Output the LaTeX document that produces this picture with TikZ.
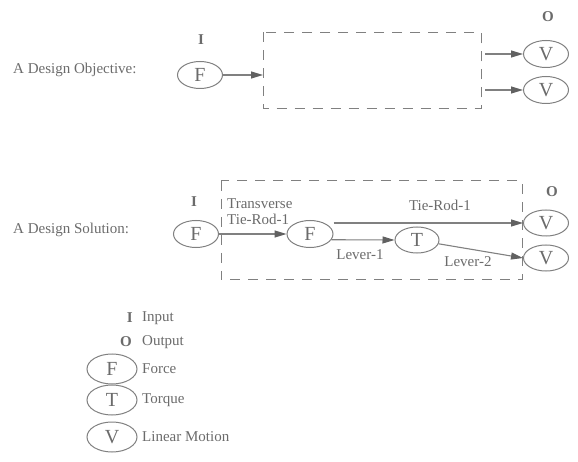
\documentclass[tikz,border=0pt]{standalone}
\usepackage{fontspec}
\setmainfont{Liberation Serif}
\usetikzlibrary{arrows.meta,shapes.geometric}

\definecolor{ink}{gray}{0.42}
\definecolor{edge}{gray}{0.50}
\definecolor{tipgray}{gray}{0.38}

\begin{document}
\begin{tikzpicture}[x=1pt,y=-1pt,
  every node/.style={text=ink, font=\fontsize{15}{18}\selectfont},
  var/.style={ellipse, draw=edge, line width=1pt, minimum width=45pt,
    minimum height=27pt, inner sep=0pt, font=\fontsize{20}{24}\selectfont},
  keyvar/.style={var, minimum width=50pt, minimum height=30pt},
  flow/.style={draw=edge, line width=1.1pt,
    -{Triangle[length=12pt,width=7pt,color=tipgray]}},
  boundary/.style={draw=edge, line width=1pt, dash pattern=on 10pt off 8pt},
  tag/.style={font=\bfseries\fontsize{15}{18}\selectfont, inner sep=0pt},
  lbl/.style={font=\fontsize{15}{16}\selectfont, inner sep=0pt, align=left}
]
\useasboundingbox (0,0) rectangle (578,462);

% ---- design objective ----
\node[anchor=west, inner sep=0pt] (objtitle) at (13,70) {A Design Objective:};
\node[tag] (objI) at (201,40) {I};
\node[var] (objF) at (200,75) {F};
\node[tag] (objO) at (548,17) {O};
\node[var] (objV1) at (546,54) {V};
\node[var] (objV2) at (546,90) {V};

\coordinate (objnw) at (263,32.5);
\coordinate (objse) at (481,109);
\coordinate (objout) at (485,0);
\draw[boundary] (objnw) rectangle (objse);

\draw[flow] (objF.east) -- (objnw |- objF.east);
\draw[flow] (objout |- objV1.west) -- (objV1.west);
\draw[flow] (objout |- objV2.west) -- (objV2.west);

% ---- design solution ----
\node[anchor=west, inner sep=0pt] (soltitle) at (13,230) {A Design Solution:};
\node[tag] (solI) at (194,202) {I};
\node[tag] (solO) at (552,192) {O};
\node[var] (solF1) at (196,234) {F};
\node[var, minimum width=46pt] (solF2) at (310,234) {F};
\node[var, minimum width=44pt, minimum height=26pt] (solT) at (417,240) {T};
\node[var, minimum height=26pt] (solV1) at (546,223) {V};
\node[var, minimum height=26pt] (solV2) at (546,258) {V};

\coordinate (solnw) at (221,181);
\coordinate (solse) at (522,280);
\draw[boundary] (solnw) rectangle (solse);

\draw[flow] (solF1.east) -- (solF2.west);
\draw[flow] (solF2.east |- solV1.west) -- (solV1.west);
\draw[flow] (solF2.-15) -- (solT.west);
\draw[flow] (solT.-10) -- (solV2.west);

\node[lbl, anchor=west] (trlbl) at (227,212) {Transverse\\Tie-Rod-1};
\node[lbl] (rodlbl) at (440,205) {Tie-Rod-1};
\node[lbl] (lev1lbl) at (360,255) {Lever-1};
\node[lbl] (lev2lbl) at (468,262) {Lever-2};

% ---- legend ----
\node[tag, anchor=east] (keyI) at (133,318) {I};
\node[anchor=west, inner sep=0pt] (keyIt) at (142,318) {Input};
\node[tag, anchor=east] (keyO) at (132,342) {O};
\node[anchor=west, inner sep=0pt] (keyOt) at (142,342) {Output};
\node[keyvar] (keyF) at (112,369) {F};
\node[anchor=west, inner sep=0pt] (keyFt) at (142,369) {Force};
\node[keyvar] (keyT) at (112,400) {T};
\node[anchor=west, inner sep=0pt] (keyTt) at (142,400) {Torque};
\node[keyvar] (keyV) at (112,437) {V};
\node[anchor=west, inner sep=0pt] (keyVt) at (142,437) {Linear Motion};
\end{tikzpicture}
\end{document}
